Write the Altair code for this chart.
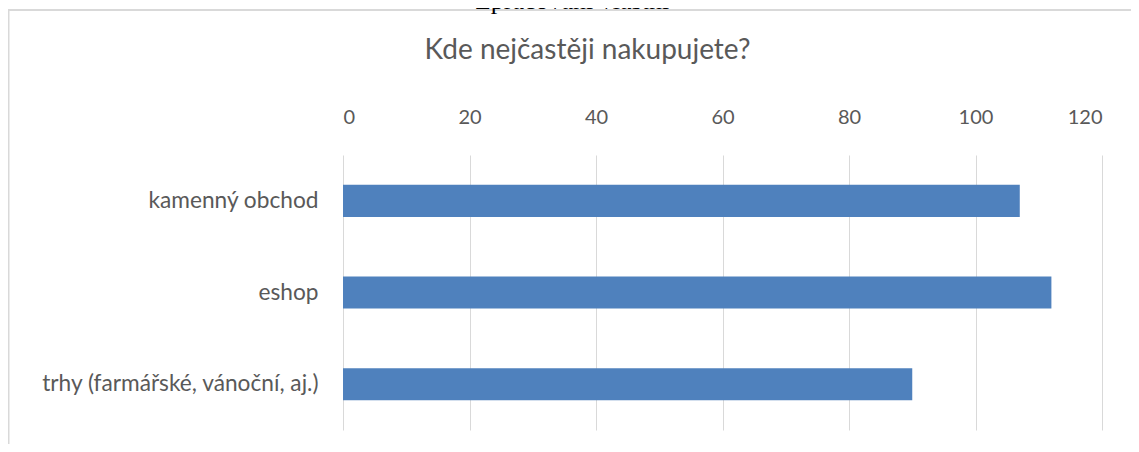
import altair as alt
import pandas as pd

categories = ["kamenný obchod", "eshop", "trhy (farmářské, vánoční, aj.)"]
values = [107, 112, 90]
tick_values = [0, 20, 40, 60, 80, 100, 120]
chart_title = "Kde nejčastěji nakupujete?"
source_note = "Zpracování vlastní"

df = pd.DataFrame({"category": categories, "value": values})

GREY = "#595959"
FONT = "Lato"

frame = alt.Chart(pd.DataFrame({"a": [0]})).mark_rect(
    fillOpacity=0, stroke="#d9d9d9", strokeWidth=2
).encode(
    x=alt.value(-334.5), x2=alt.value(900), y=alt.value(-145), y2=alt.value(500)
)

note = alt.Chart(pd.DataFrame({"t": [source_note]})).mark_text(
    font="Liberation Serif", fontSize=26, color="#000000", baseline="alphabetic", align="center"
).encode(text="t:N", x=alt.value(572 - 343), y=alt.value(-146))

title = alt.Chart(pd.DataFrame({"t": [chart_title]})).mark_text(
    font=FONT, fontSize=28, color=GREY, baseline="alphabetic", align="center"
).encode(text="t:N", x=alt.value(587.5 - 343), y=alt.value(59 - 155))

bars = alt.Chart(df).mark_bar(color="#4f81bd").encode(
    x=alt.X(
        "value:Q",
        scale=alt.Scale(domain=[0, 120], nice=False),
        axis=alt.Axis(
            orient="top", values=tick_values, grid=True, gridColor="#d9d9d9", gridWidth=1,
            domain=False, ticks=False, tickSize=0, labelFont=FONT, labelFontSize=20,
            labelColor=GREY, labelPadding=32, labelBaseline="alphabetic", title=None,
        ),
    ),
    y=alt.Y(
        "category:N", sort=categories,
        scale=alt.Scale(paddingInner=0.65, paddingOuter=0.325),
        axis=alt.Axis(
            domain=False, ticks=False, tickSize=0, labelFont=FONT, labelFontSize=22.7,
            labelColor=GREY, labelPadding=25, labelLimit=400, title=None, grid=False,
        ),
    ),
)

chart = alt.layer(frame, note, title, bars).properties(
    width=759, height=275,
    autosize=alt.AutoSizeParams(type="none"),
    padding={"left": 335, "top": 147, "right": 29, "bottom": 14},
).configure_view(stroke=None)

chart.save("out.html", embed_options={"renderer": "svg", "actions": False})
